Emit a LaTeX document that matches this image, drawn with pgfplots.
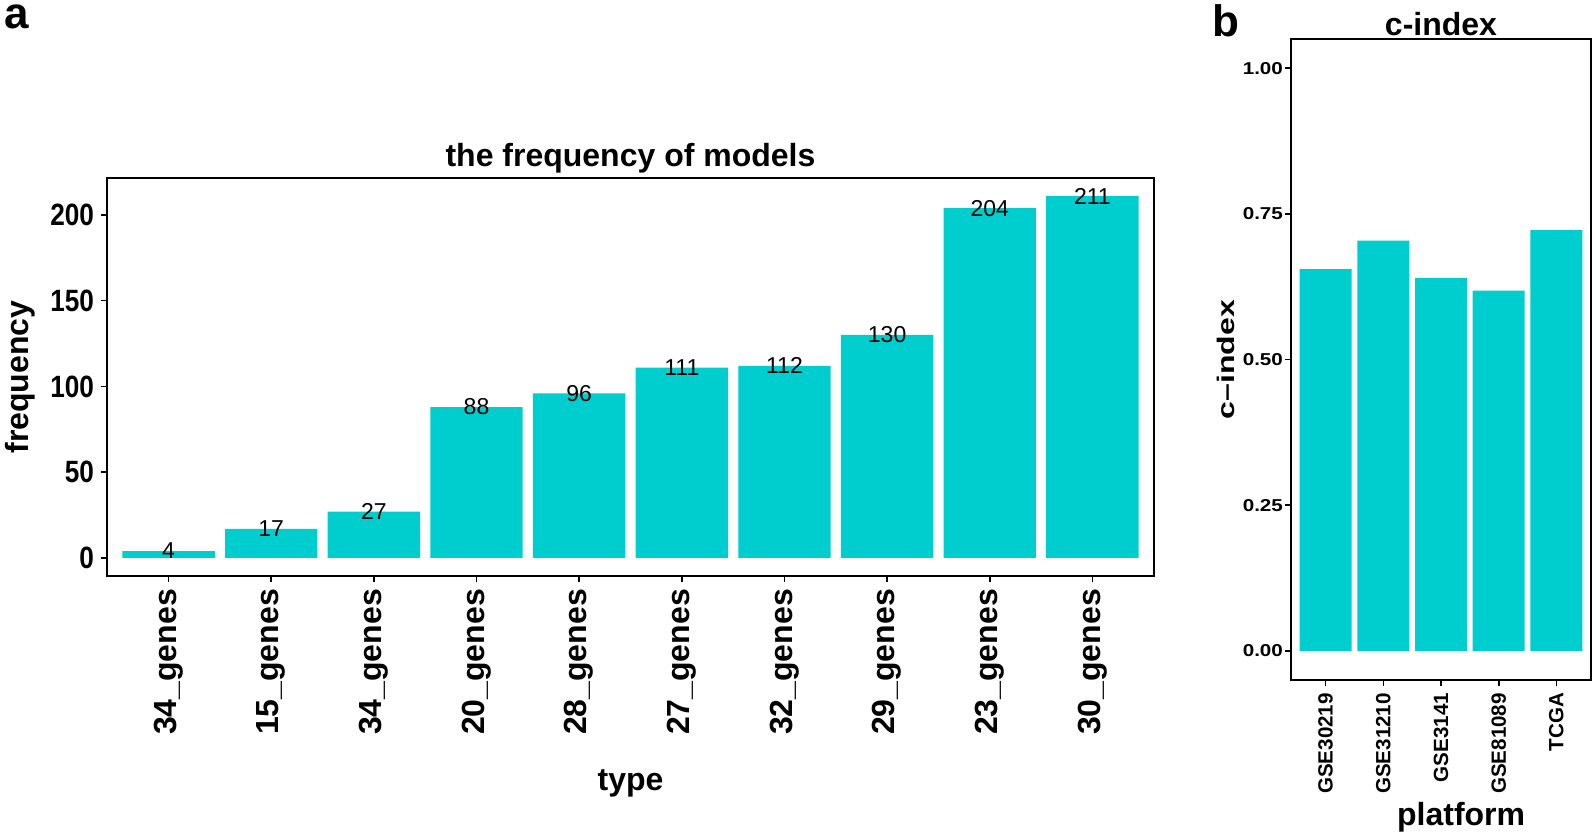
\documentclass[border=0pt]{standalone}
\usepackage{fontspec}
\setmainfont{Liberation Sans}
\newfontfamily\condfont[FakeStretch=0.85]{Liberation Sans}
\newfontfamily\widefont[FakeStretch=1.2]{Liberation Sans}
\usepackage{graphicx}
\usepackage{pgfplots}
\pgfplotsset{compat=1.18}
\definecolor{cyanthree}{HTML}{00CDCD}

\pgfplotsset{ggbox/.style={
  scale only axis, anchor=south west,
  axis line style={black, line width=0.9pt},
  tick align=outside, xtick pos=bottom, ytick pos=left,
  major tick length=3pt, tick style={black, line width=0.8pt},
  /pgf/number format/assume math mode=true,
  ybar, bar width=0.9,
}}

\begin{document}
\begin{tikzpicture}
\path[use as bounding box] (0,0) rectangle (797.5pt,-417.5pt);

% panel a: frequency of models
\begin{axis}[ggbox, at={(53.5pt,-288pt)}, width=523.5pt, height=199pt,
  xmin=0.4, xmax=10.6, ymin=-10.55, ymax=221.55,
  xtick={1,...,10},
  xticklabels={34\_genes,15\_genes,34\_genes,20\_genes,28\_genes,27\_genes,32\_genes,29\_genes,23\_genes,30\_genes},
  xticklabel style={rotate=90, anchor=east, font=\bfseries\fontsize{16}{16}\selectfont},
  ytick={0,50,100,150,200},
  yticklabel style={font=\condfont\bfseries\fontsize{15.4}{16}\selectfont},
  title={the frequency of models},
  title style={at={(axis description cs:0.5,1.0528)}, anchor=base, yshift=-10.7pt, font=\bfseries\fontsize{16}{16}\selectfont},
  xlabel={type},
  xlabel style={at={(axis description cs:0.5,-0.538)}, anchor=base, font=\bfseries\fontsize{16}{16}\selectfont},
  ylabel={frequency},
  ylabel style={at={(axis description cs:-0.075,0.5)}, anchor=base, font=\bfseries\fontsize{16}{16}\selectfont},
  nodes near coords,
  every node near coord/.append style={anchor=center, black, font=\fontsize{11.5}{11.5}\selectfont},
]
\addplot[fill=cyanthree, draw=none] coordinates {
(1,4) (2,17) (3,27) (4,88) (5,96) (6,111) (7,112) (8,130) (9,204) (10,211)};
\end{axis}

% panel b: c-index per platform
\begin{axis}[ggbox, at={(645.5pt,-340pt)}, width=150pt, height=320.5pt,
  xmin=0.4, xmax=5.6, ymin=-0.05, ymax=1.05,
  xtick={1,...,5},
  xticklabels={GSE30219,GSE31210,GSE3141,GSE81089,TCGA},
  xticklabel style={rotate=90, anchor=east, font=\bfseries\fontsize{10.3}{10}\selectfont},
  ytick={0,0.25,0.5,0.75,1},
  yticklabels={0.00,0.25,0.50,0.75,1.00},
  yticklabel style={xshift=2.5pt, font=\widefont\bfseries\fontsize{8.6}{9}\selectfont},
  title={c-index},
  title style={at={(axis description cs:0.5,1.0203)}, anchor=base, yshift=-10.7pt, font=\bfseries\fontsize{16}{16}\selectfont},
  xlabel={platform},
  xlabel style={at={(axis description cs:0.567,-0.2262)}, anchor=base, font=\bfseries\fontsize{16}{16}\selectfont},
  ylabel={\scalebox{1}[0.75]{c–index}},
  ylabel style={at={(axis description cs:-0.187,0.5)}, anchor=base, font=\bfseries\fontsize{16}{16}\selectfont},
]
\addplot[fill=cyanthree, draw=none] coordinates {
(1,0.655) (2,0.704) (3,0.640) (4,0.618) (5,0.722)};
\end{axis}

\node[anchor=north west, inner sep=0pt, font=\bfseries\fontsize{22}{22}\selectfont] at (2pt,-2pt) {a};
\node[anchor=north west, inner sep=0pt, font=\bfseries\fontsize{22}{22}\selectfont] at (606pt,-2pt) {b};
\end{tikzpicture}
\end{document}
